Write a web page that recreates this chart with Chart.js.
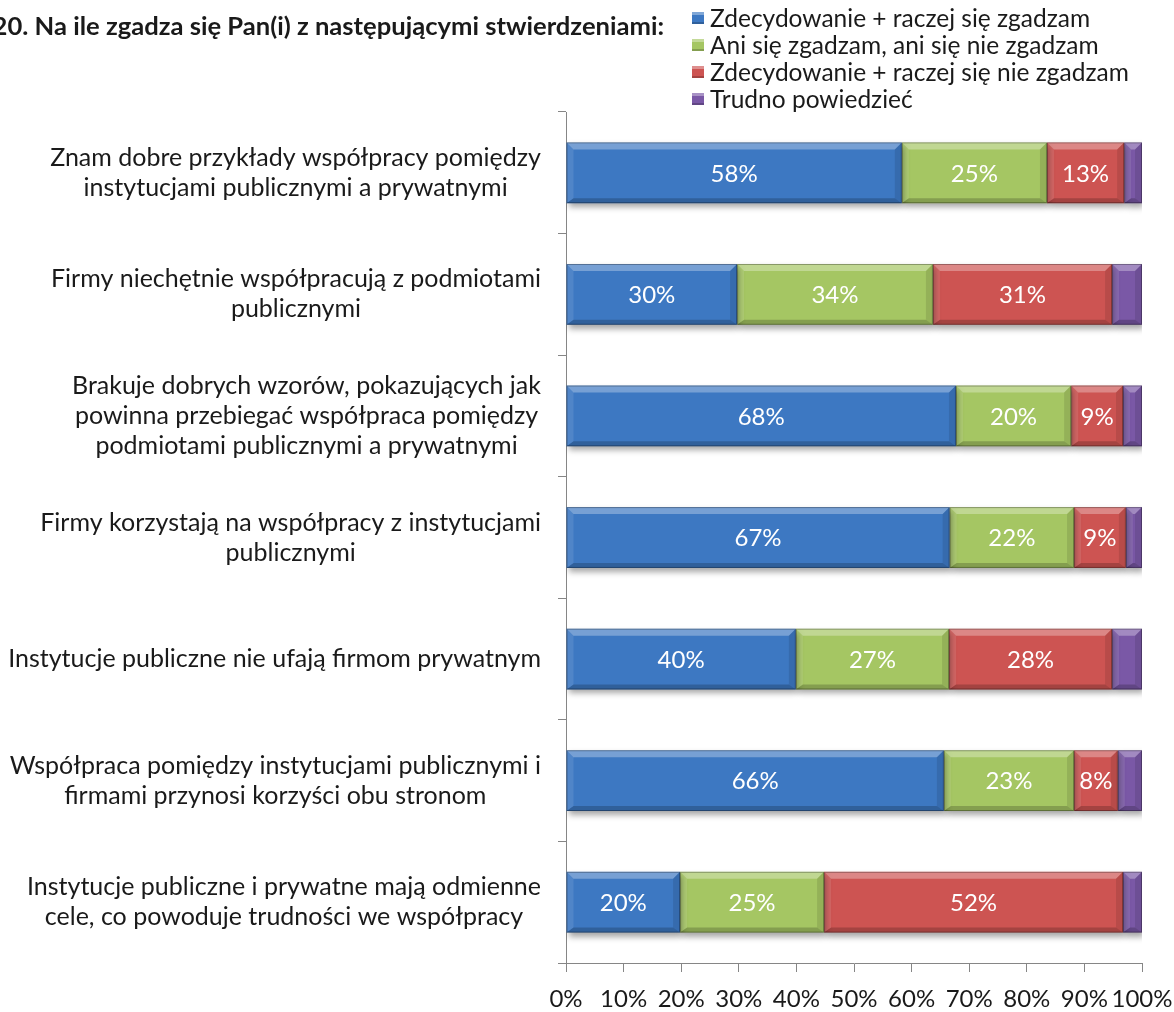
<!DOCTYPE html>
<html lang="pl">
<head>
    <meta charset="UTF-8">
    <title>Współpraca instytucji publicznych i prywatnych</title>
    <script src="https://cdn.jsdelivr.net/npm/chart.js"></script>
    <style>
        html, body { margin: 0; padding: 0; background: #fff; }
        #wrap { width: 1174px; height: 1012px; position: relative; }
    </style>
</head>
<body>
    <div id="wrap"><canvas id="surveyChart"></canvas></div>
    <script>
        const title = '20. Na ile zgadza się Pan(i) z następującymi stwierdzeniami:';

        const statements = [
            ['Znam dobre przykłady współpracy pomiędzy', 'instytucjami publicznymi a prywatnymi'],
            ['Firmy niechętnie współpracują z podmiotami', 'publicznymi'],
            ['Brakuje dobrych wzorów, pokazujących jak', 'powinna przebiegać współpraca pomiędzy', 'podmiotami publicznymi a prywatnymi'],
            ['Firmy korzystają na współpracy z instytucjami', 'publicznymi'],
            ['Instytucje publiczne nie ufają firmom prywatnym'],
            ['Współpraca pomiędzy instytucjami publicznymi i', 'firmami przynosi korzyści obu stronom'],
            ['Instytucje publiczne i prywatne mają odmienne', 'cele, co powoduje trudności we współpracy']
        ];

        const seriesNames = [
            'Zdecydowanie + raczej się zgadzam',
            'Ani się zgadzam, ani się nie zgadzam',
            'Zdecydowanie + raczej się nie zgadzam',
            'Trudno powiedzieć'
        ];

        const agree    = [58.3, 29.7, 67.7, 66.6, 39.9, 65.6, 19.8];
        const neutral  = [25.2, 34.0, 20.0, 21.6, 26.6, 22.6, 25.0];
        const disagree = [13.4, 31.1,  9.0,  9.0, 28.3,  7.6, 51.9];
        const hardToSay = [3.1,  5.2,  3.3,  2.8,  5.2,  4.2,  3.3];

        const xTicks = [0, 10, 20, 30, 40, 50, 60, 70, 80, 90, 100];

        const colors = ['#3d78c2', '#a5c663', '#cd5452', '#7a58a6'];
        const FONT = 'Lato, "Open Sans", sans-serif';

        // bevel + soft shadow on the bars, old office style
        const bevelPlugin = {
            id: 'bevel',
            beforeDatasetsDraw(chart) {
                const ctx = chart.ctx;
                ctx.save();
                ctx.shadowColor = 'rgba(0,0,0,0.35)';
                ctx.shadowBlur = 6;
                ctx.shadowOffsetX = 2;
                ctx.shadowOffsetY = 4;
            },
            afterDatasetsDraw(chart) {
                const ctx = chart.ctx;
                ctx.restore();
                const b = 7;
                chart.data.datasets.forEach((ds, di) => {
                    chart.getDatasetMeta(di).data.forEach((el, i) => {
                        const l = Math.min(el.x, el.base), r = Math.max(el.x, el.base);
                        const t = el.y - el.height / 2, bot = el.y + el.height / 2;
                        const bb = Math.min(b, (r - l) / 2);
                        const poly = (pts, fill) => {
                            ctx.beginPath();
                            ctx.moveTo(pts[0][0], pts[0][1]);
                            pts.slice(1).forEach(p => ctx.lineTo(p[0], p[1]));
                            ctx.closePath();
                            ctx.fillStyle = fill;
                            ctx.fill();
                        };
                        poly([[l, t], [r, t], [r - bb, t + b], [l + bb, t + b]], 'rgba(255,255,255,0.3)');
                        poly([[l, bot], [r, bot], [r - bb, bot - b + 2], [l + bb, bot - b + 2]], 'rgba(0,0,0,0.2)');
                        poly([[l, t], [l + bb, t + b], [l + bb, bot - b + 2], [l, bot]], 'rgba(255,255,255,0.1)');
                        poly([[r, t], [r - bb, t + b], [r - bb, bot - b + 2], [r, bot]], 'rgba(0,0,0,0.1)');
                        ctx.strokeStyle = 'rgba(0,0,0,0.3)';
                        ctx.lineWidth = 1;
                        ctx.strokeRect(l + 0.5, t + 0.5, r - l - 1, bot - t - 1);

                        // value labels, none on the last series
                        if (di < 3) {
                            ctx.fillStyle = '#fff';
                            ctx.font = '24px ' + FONT;
                            ctx.textAlign = 'center';
                            ctx.textBaseline = 'middle';
                            ctx.fillText(Math.round(ds.data[i]) + '%', (l + r) / 2, el.y + 1);
                        }
                    });
                });
            }
        };

        // category labels: block right-aligned, lines centred inside it
        const labelPlugin = {
            id: 'catLabels',
            afterDraw(chart) {
                const ctx = chart.ctx;
                const yScale = chart.scales.y;
                ctx.save();
                ctx.font = '25px ' + FONT;
                ctx.fillStyle = '#1a1a1a';
                ctx.textAlign = 'center';
                ctx.textBaseline = 'middle';
                statements.forEach((lines, i) => {
                    const y = yScale.getPixelForValue(i);
                    const w = Math.max(...lines.map(s => ctx.measureText(s).width));
                    const cx = 541 - w / 2;
                    lines.forEach((s, j) => {
                        ctx.fillText(s, cx, y + (j - (lines.length - 1) / 2) * 30);
                    });
                });

                // title, cut by the left edge like in the original
                ctx.font = 'bold 25.6px ' + FONT;
                ctx.textAlign = 'right';
                ctx.fillText(title, 664, 27);

                // legend
                ctx.font = '24.5px ' + FONT;
                ctx.textAlign = 'left';
                seriesNames.forEach((name, k) => {
                    const ly = 18 + k * 27;
                    ctx.fillStyle = colors[k];
                    ctx.fillRect(692, ly - 6, 12, 12);
                    ctx.fillStyle = 'rgba(255,255,255,0.35)';
                    ctx.fillRect(692, ly - 6, 12, 3);
                    ctx.fillStyle = 'rgba(0,0,0,0.2)';
                    ctx.fillRect(692, ly + 4, 12, 2);
                    ctx.fillStyle = '#1a1a1a';
                    ctx.fillText(name, 710, ly + 1);
                });
                ctx.restore();
            }
        };

        const ctx = document.getElementById('surveyChart').getContext('2d');
        new Chart(ctx, {
            type: 'bar',
            data: {
                labels: statements,
                datasets: [agree, neutral, disagree, hardToSay].map((vals, k) => ({
                    label: seriesNames[k],
                    data: vals,
                    backgroundColor: colors[k],
                    borderWidth: 0,
                    barPercentage: 0.5,
                    categoryPercentage: 1
                }))
            },
            options: {
                indexAxis: 'y',
                responsive: true,
                maintainAspectRatio: false,
                animation: false,
                layout: { padding: { top: 112, right: 32, left: 0, bottom: 0 } },
                plugins: {
                    legend: { display: false },
                    title: { display: false },
                    tooltip: { enabled: false }
                },
                scales: {
                    x: {
                        stacked: true,
                        min: 0,
                        max: 100,
                        afterBuildTicks: axis => { axis.ticks = xTicks.map(v => ({ value: v })); },
                        ticks: {
                            callback: v => v + '%',
                            font: { family: FONT, size: 24 },
                            color: '#1a1a1a',
                            padding: 13,
                            autoSkip: false,
                            maxRotation: 0
                        },
                        grid: { drawOnChartArea: false, tickLength: 9, color: '#868686' },
                        border: { color: '#868686' },
                        afterFit: axis => {
                            axis.height = 49;
                            axis.paddingLeft = 0;
                            axis.paddingRight = 0;
                        }
                    },
                    y: {
                        stacked: true,
                        ticks: { display: false },
                        grid: { drawOnChartArea: false, tickLength: 8, color: '#868686', offset: true },
                        border: { color: '#868686' },
                        afterFit: axis => { axis.width = 566; }
                    }
                }
            },
            plugins: [bevelPlugin, labelPlugin]
        });
    </script>
</body>
</html>
